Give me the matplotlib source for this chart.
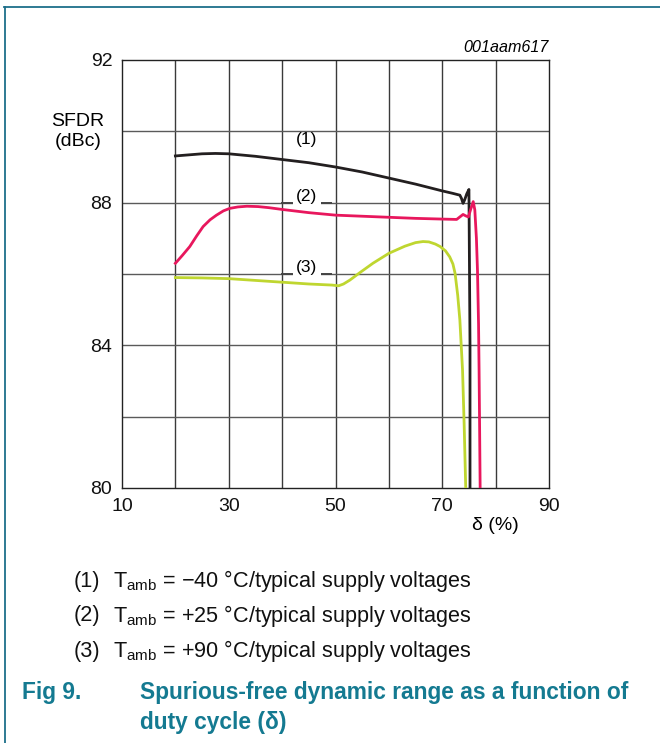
import matplotlib
matplotlib.use("Agg")
import matplotlib.pyplot as plt
from matplotlib.lines import Line2D

plt.rcParams['font.family'] = ['Liberation Sans', 'DejaVu Sans']
plt.rcParams['mathtext.fontset'] = 'custom'
plt.rcParams['mathtext.rm'] = 'Liberation Sans'
plt.rcParams['mathtext.it'] = 'Liberation Sans:italic'

# Data
x1 = [20, 22.5, 25, 27.5, 30, 35, 40, 45, 50, 55, 60, 65, 70, 72, 73.3, 73.6, 73.9, 74.2, 74.6, 75.0, 75.2, 75.2]
y1 = [89.31, 89.34, 89.37, 89.38, 89.37, 89.3, 89.21, 89.12, 89.0, 88.86, 88.69, 88.52, 88.33, 88.26, 88.21, 88.12, 87.98, 88.08, 88.25, 88.37, 84.0, 80.0]

x2 = [20, 21.3, 22.7, 24, 25.2, 26.5, 27.7, 29, 30.2, 31.7, 33.4, 35.5, 37.5, 40, 45, 50, 55, 60, 65, 70, 72.7, 73.3,
      73.9, 74.4, 74.9, 75.3, 75.8, 76.1, 76.4, 76.6, 76.8, 76.9, 77.0, 77.1]
y2 = [86.3, 86.52, 86.77, 87.07, 87.33, 87.52, 87.65, 87.77, 87.84, 87.88, 87.9, 87.89, 87.86, 87.81, 87.72, 87.65, 87.62, 87.59, 87.56, 87.54, 87.53, 87.6,
      87.67, 87.63, 87.6, 87.8, 88.03, 87.8, 87.0, 86.1, 84.6, 83.3, 81.7, 80.0]

x3 = [20, 25, 30, 35, 40, 45, 49.3, 50.6, 51.5, 52.7, 54.4, 57, 60, 63, 65, 66.4, 67.5, 68.7, 69.6, 70.6, 71.4, 72.0,
      72.4, 72.9, 73.3, 73.8, 74.1, 74.4]
y3 = [85.9, 85.89, 85.87, 85.82, 85.77, 85.72, 85.69, 85.67, 85.72, 85.83, 86.02, 86.3, 86.58, 86.78, 86.88, 86.91, 86.9, 86.84, 86.77, 86.65, 86.48, 86.28,
      86.02, 85.4, 84.71, 83.31, 81.8, 80.0]

xticks = [10, 30, 50, 70, 90]
yticks = [80, 84, 88, 92]
legend_lines = [
    ("(1)", r"$\mathregular{T_{amb}}$ = −40 °C/typical supply voltages"),
    ("(2)", r"$\mathregular{T_{amb}}$ = +25 °C/typical supply voltages"),
    ("(3)", r"$\mathregular{T_{amb}}$ = +90 °C/typical supply voltages"),
]

W, H = 660, 743
fig = plt.figure(figsize=(W / 100, H / 100), dpi=100)
ax = fig.add_axes([122 / W, 1 - 488 / H, (549 - 122) / W, (488 - 60) / H])

ax.set_xlim(10, 90)
ax.set_ylim(80, 92)
for gx in range(20, 90, 10):
    ax.axvline(gx, color='#3a3a3a', lw=1.0, zorder=1)
for gy in range(82, 92, 2):
    ax.axhline(gy, color='#5a5a5a', lw=1.0, zorder=1)
for s in ax.spines.values():
    s.set_color('#222222')
    s.set_linewidth(1.0)

ax.plot(x1, y1, color='#231f20', lw=2.0, zorder=3, solid_joinstyle='round')
ax.plot(x3, y3, color='#bfd630', lw=2.0, zorder=3, solid_joinstyle='round')
ax.plot(x2, y2, color='#e8175d', lw=2.0, zorder=4, solid_joinstyle='round')

ax.set_xticks(xticks)
ax.set_yticks(yticks)
ax.tick_params(length=0, labelsize=14, pad=7, colors='#111111')
ax.set_xticklabels([str(v) for v in xticks])
ax.set_yticklabels([str(v) for v in yticks])

# curve labels
ax.text(44.6, 89.78, "(1)", fontsize=12.5, ha='center', va='center', zorder=5)
for lbl, yy in (("(2)", 88.0), ("(3)", 86.0)):
    ax.text(44.6, yy + 0.17, lbl, fontsize=12.5, ha='center', va='center', zorder=5,
            bbox=dict(boxstyle='square,pad=0.2', fc='white', ec='none'))
    ax.plot([40.0, 41.8], [yy, yy], color='#444444', lw=1.4, zorder=2)
    ax.plot([47.3, 49.1], [yy, yy], color='#444444', lw=1.4, zorder=2)

# axis titles
fig.text(78 / W, 1 - 121 / H, "SFDR", fontsize=14, ha='center', va='center')
fig.text(78 / W, 1 - 141 / H, "(dBc)", fontsize=14, ha='center', va='center')
fig.text(495 / W, 1 - 526 / H, "δ (%)", fontsize=14, ha='center', va='center')
fig.text(549 / W, 1 - 47 / H, "001aam617", fontsize=11.6, style='italic', ha='right', va='center')

# legend text
for i, (num, txt) in enumerate(legend_lines):
    yy = 1 - (581 + i * 35) / H
    fig.text(74 / W, yy, num, fontsize=15.6, ha='left', va='center', color='#111111')
    fig.text(113 / W, yy, txt, fontsize=15.6, ha='left', va='center', color='#111111')

# caption
cap_color = '#147a91'
fig.text(22 / W, 1 - 692 / H, "Fig 9.", fontsize=16.4, fontweight='bold', color=cap_color, ha='left', va='center')
fig.text(140 / W, 1 - 692 / H, "Spurious-free dynamic range as a function of", fontsize=16.4,
         fontweight='bold', color=cap_color, ha='left', va='center')
fig.text(140 / W, 1 - 723 / H, "duty cycle (δ)", fontsize=16.4, fontweight='bold', color=cap_color,
         ha='left', va='center')

# frame
frame_color = '#1d6f8a'
fig.add_artist(Line2D([4 / W, 1.0], [1 - 7 / H, 1 - 7 / H], color=frame_color, lw=1.3, transform=fig.transFigure))
fig.add_artist(Line2D([5 / W, 5 / W], [0.0, 1 - 7 / H], color=frame_color, lw=1.3, transform=fig.transFigure))

fig.savefig("out.png", dpi=100)
